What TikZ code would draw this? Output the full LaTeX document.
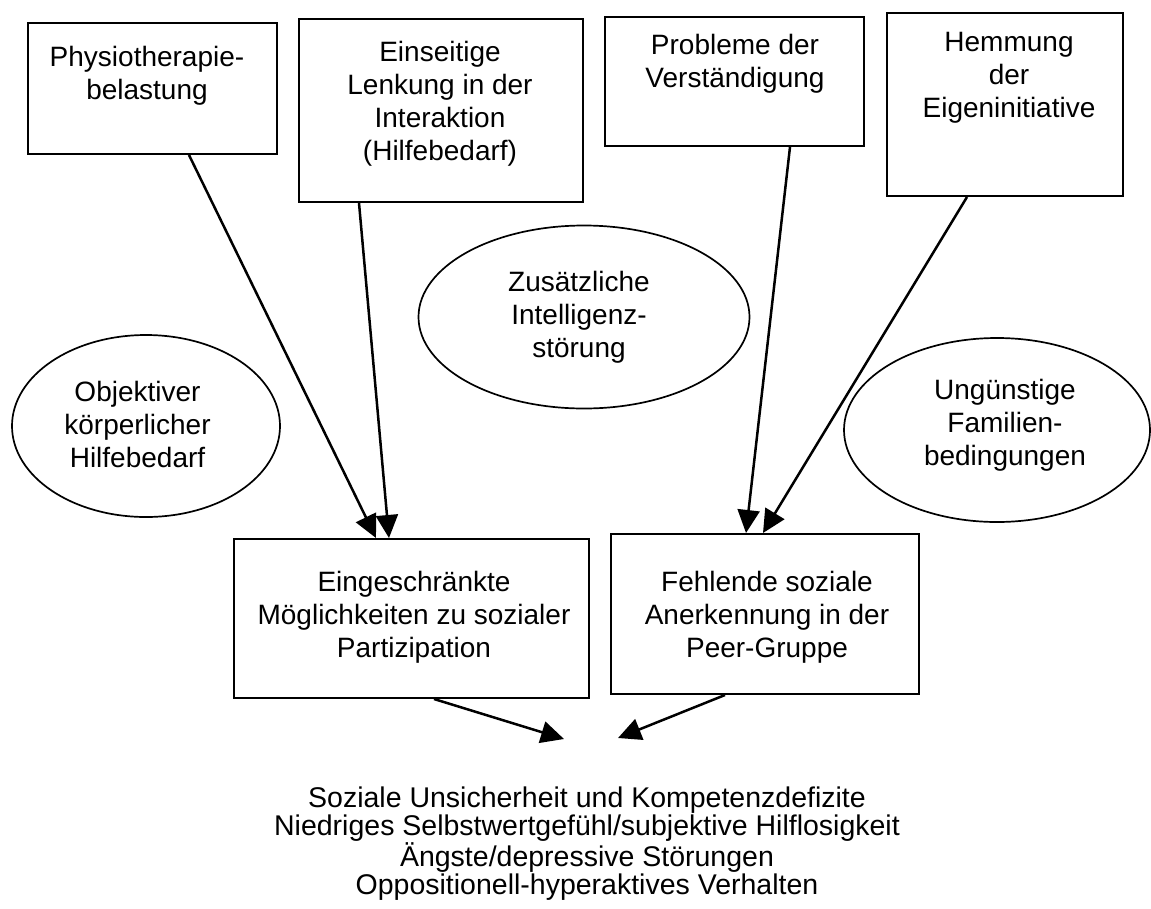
\documentclass[tikz,border=0pt]{standalone}
\usepackage{fontspec}
\setmainfont{Liberation Sans}[Ligatures=NoCommon]
\usetikzlibrary{arrows.meta,shapes.geometric}
\begin{document}
\begin{tikzpicture}[x=1pt,y=-1pt,
  box/.style={draw, line width=2pt, rectangle, inner sep=0pt, anchor=north west},
  oval/.style={draw, line width=1.7pt, ellipse, inner sep=0pt},
  txt/.style={align=center, inner sep=0pt, anchor=north, font=\fontsize{28}{33}\selectfont},
  restxt/.style={align=center, inner sep=0pt, anchor=north, font=\fontsize{28.5}{28}\selectfont},
  arr/.style={line width=2.5pt, -{Triangle[length=23pt,width=22pt]}}
]
\useasboundingbox (0,0) rectangle (1151,908);

% top boxes
\node[box, minimum width=249pt, minimum height=131pt] (b1) at (27,22) {};
\node[box, minimum width=284pt, minimum height=183pt] (b2) at (298,18) {};
\node[box, minimum width=259pt, minimum height=129pt] (b3) at (604,16) {};
\node[box, minimum width=236pt, minimum height=183pt] (b4) at (886,12) {};
\node[txt] (t1) at (147,46.5) {Physiotherapie-\\belastung};
\node[txt] (t2) at (440,41.5) {Einseitige\\Lenkung in der\\Interaktion\\(Hilfebedarf)};
\node[txt] (t3) at (735,34.5) {Probleme der\\Verständigung};
\node[txt] (t4) at (1009,32.5) {Hemmung\\der\\Eigeninitiative};

% ellipses
\node[oval, minimum width=268pt, minimum height=182pt] (e1) at (146,426) {};
\node[oval, minimum width=331pt, minimum height=183pt] (e2) at (584,317) {};
\node[oval, minimum width=306pt, minimum height=184pt] (e3) at (997,430) {};
\node[txt] (te1) at (137.5,381.5) {Objektiver\\körperlicher\\Hilfebedarf};
\node[txt] (te2) at (579,271.5) {Zusätzliche\\Intelligenz-\\störung};
\node[txt] (te3) at (1005,379.5) {Ungünstige\\Familien-\\bedingungen};

% lower boxes
\node[box, minimum width=355pt, minimum height=159pt] (p1) at (233,538) {};
\node[box, minimum width=308pt, minimum height=160pt] (p2) at (610,533) {};
\node[txt] (tp1) at (414,571.5) {Eingeschränkte\\Möglichkeiten zu sozialer\\Partizipation};
\node[txt] (tp2) at (767,571.5) {Fehlende soziale\\Anerkennung in der\\Peer-Gruppe};

% result text
\node[restxt] (out) at (587,787) {Soziale Unsicherheit und Kompetenzdefizite\\Niedriges Selbstwertgefühl/subjektive Hilflosigkeit\\Ängste/depressive Störungen\\Oppositionell-hyperaktives Verhalten};
\coordinate (r1) at (564,739);
\coordinate (r2) at (618,738);

% connectors
\draw[arr] ([xshift=36.5pt]b1.south) -- ([xshift=-35.5pt]p1.north);
\draw[arr] ([xshift=-82pt]b2.south) -- ([xshift=-22.5pt]p1.north);
\draw[arr] ([xshift=55.5pt]b3.south) -- ([xshift=-19pt]p2.north);
\draw[arr] ([xshift=-38pt]b4.south) -- ([xshift=-2pt]p2.north);
\draw[arr] ([xshift=22.5pt]p1.south) -- (r1);
\draw[arr] ([xshift=-40pt]p2.south) -- (r2);
\end{tikzpicture}
\end{document}
